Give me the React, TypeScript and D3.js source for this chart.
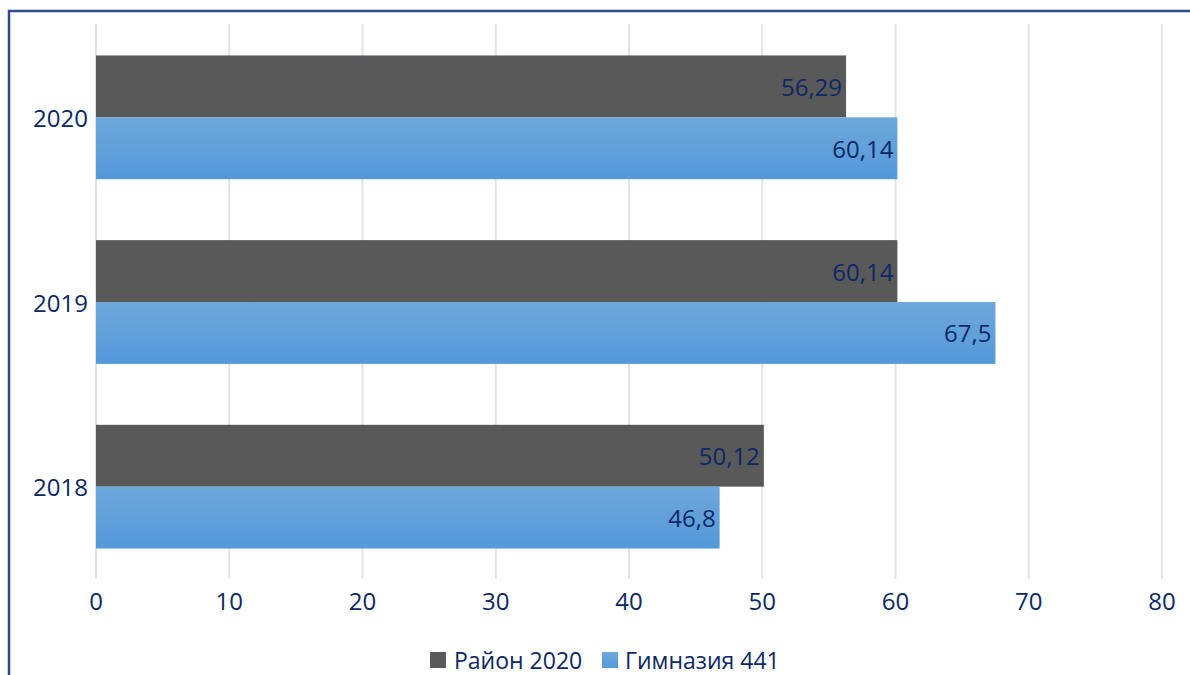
import React from "react";
import * as d3 from "d3";

const categories = ["2020", "2019", "2018"];
const seriesNames = ["Район 2020", "Гимназия 441"];
const rayon = [56.29, 60.14, 50.12];
const gymn = [60.14, 67.5, 46.8];
const labelsRayon = ["56,29", "60,14", "50,12"];
const labelsGymn = ["60,14", "67,5", "46,8"];
const xTicks = [0, 10, 20, 30, 40, 50, 60, 70, 80];

const W = 1190;
const H = 675;
const FONT = "'Open Sans', 'Liberation Sans', sans-serif";
const NAVY = "#0C2866";
const DARK = "#595959";

export default function App() {
  const x = d3.scaleLinear().domain([0, 80]).range([96, 1162]);
  const y = d3.scaleBand().domain(categories).range([25, 579]).paddingInner(0.33).paddingOuter(0.165);
  const inner = d3.scaleBand().domain(["0", "1"]).range([0, y.bandwidth()]);
  const series = [
    { vals: rayon, labels: labelsRayon, fill: DARK },
    { vals: gymn, labels: labelsGymn, fill: "url(#blueGrad)" },
  ];
  return (
    <svg width={W} height={H} style={{ position: "absolute", left: 0, top: 0, background: "#fff" }}>
      <defs>
        <linearGradient id="blueGrad" x1="0" y1="0" x2="0" y2="1">
          <stop offset="0" stopColor="#6EA7DB" />
          <stop offset="1" stopColor="#5499D9" />
        </linearGradient>
      </defs>
      <rect x={0} y={0} width={W} height={H} fill="#fff" />
      <path d={`M9,${H} V11 H${W}`} fill="none" stroke="#2F4A8A" strokeWidth={2.5} />
      {xTicks.map((t) => (
        <line key={t} x1={x(t)} x2={x(t)} y1={24} y2={579} stroke="#E1E4E9" strokeWidth={2} />
      ))}
      {categories.map((c, i) =>
        series.map((s, j) => {
          const y0 = (y(c) as number) + (inner(String(j)) as number);
          const h = inner.bandwidth();
          return (
            <g key={c + j}>
              <rect x={x(0)} y={y0} width={x(s.vals[i]) - x(0)} height={h} fill={s.fill} />
              <text
                x={x(s.vals[i]) - 4}
                y={y0 + h / 2}
                textAnchor="end"
                dominantBaseline="central"
                fontFamily={FONT}
                fontSize={24}
                fill={NAVY}
              >
                {s.labels[i]}
              </text>
            </g>
          );
        })
      )}
      {categories.map((c) => (
        <text
          key={c}
          x={88}
          y={(y(c) as number) + y.bandwidth() / 2}
          textAnchor="end"
          dominantBaseline="central"
          fontFamily={FONT}
          fontSize={24}
          fill={NAVY}
        >
          {c}
        </text>
      ))}
      {xTicks.map((t) => (
        <text
          key={t}
          x={x(t)}
          y={600}
          textAnchor="middle"
          dominantBaseline="central"
          fontFamily={FONT}
          fontSize={24}
          fill={NAVY}
        >
          {t}
        </text>
      ))}
      <g>
        <rect x={430} y={652} width={16} height={16} fill={DARK} />
        <text x={454} y={660} dominantBaseline="central" fontFamily={FONT} fontSize={23} fill={NAVY}>
          {seriesNames[0]}
        </text>
        <rect x={602} y={652} width={16} height={16} fill="url(#blueGrad)" />
        <text x={625} y={660} dominantBaseline="central" fontFamily={FONT} fontSize={23} fill={NAVY}>
          {seriesNames[1]}
        </text>
      </g>
    </svg>
  );
}
